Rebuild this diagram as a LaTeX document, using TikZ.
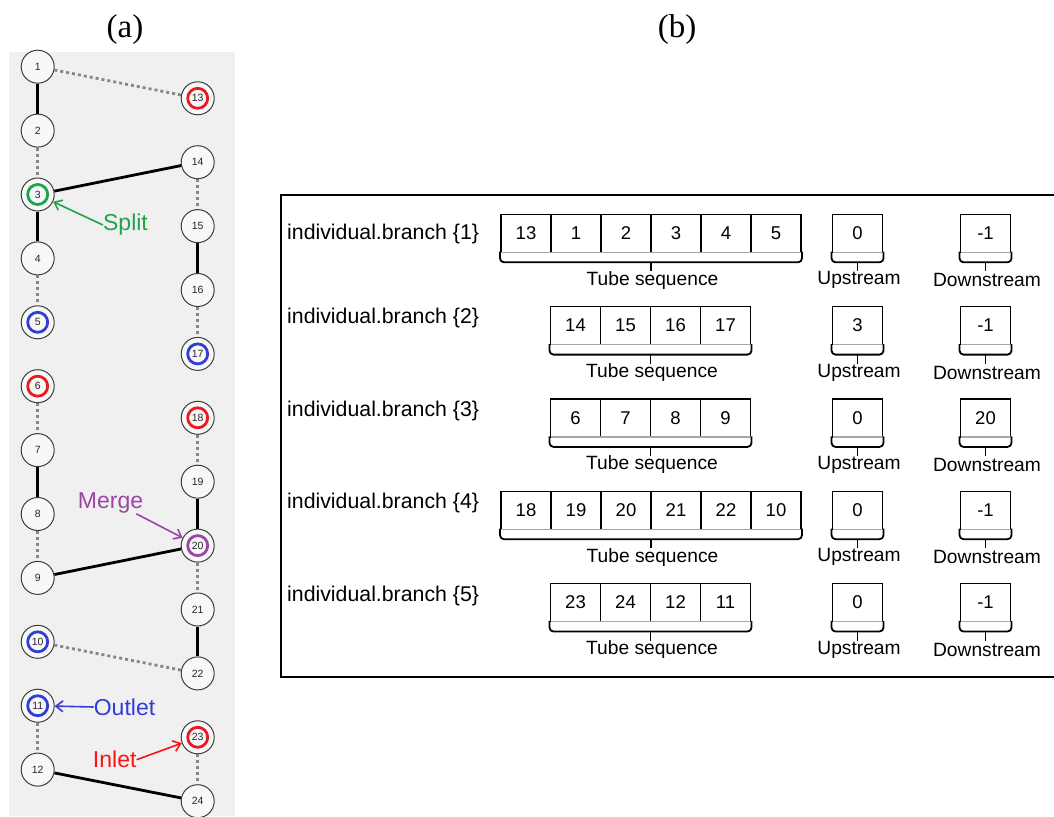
\documentclass[tikz,border=0pt]{standalone}
\usepackage{fontspec}
\setmainfont{Liberation Sans}
\newfontfamily\titlefont{Liberation Serif}
\usetikzlibrary{arrows.meta}
\definecolor{bggray}{RGB}{240,240,240}
\definecolor{nodefill}{RGB}{248,248,248}
\definecolor{nodeline}{RGB}{60,60,60}
\definecolor{dotgray}{RGB}{135,135,135}
\definecolor{ringred}{RGB}{235,25,35}
\definecolor{ringgreen}{RGB}{30,165,75}
\definecolor{ringblue}{RGB}{50,60,215}
\definecolor{ringpurple}{RGB}{155,70,165}
\definecolor{inletred}{RGB}{250,20,20}

\newcommand\bracketbox[5]{%
  \draw[gray!70, line width=1.2pt] ({#1},{#3}) -- ({#2},{#3});
  \draw[brk] ({#1-1},{#3-0.6}) -- ({#1-1},{#3+10}) -- ({#2+1},{#3+10}) -- ({#2+1},{#3-0.6});
  \draw[brk] ({(#1+#2)/2},{#3+10}) -- ({(#1+#2)/2},{#3+19});
  \node[sublbl] (#4) at ({(#1+#2)/2+1.5},{#3+28}) {#5};
}
\newcommand\branchrow[8]{% #1 row, #2 ytop, #3 x0, #4 list, #5 n, #6 up, #7 down, #8 label y
  \node[rowlbl] (lbl#1) at (287,#8) {individual.branch \{#1\}};
  \foreach \v [count=\i from 0] in {#4} {
    \node[cell] (r#1c\i) at ({#3+25+50*\i},{#2+19}) {\v};
  }
  \bracketbox{#3}{#3+50*#5}{#2+38}{seq#1}{Tube sequence}
  \node[cell] (up#1) at (857.5,{#2+19}) {#6};
  \bracketbox{832.5}{882.5}{#2+38}{upl#1}{Upstream}
  \node[cell] (dn#1) at (985.5,{#2+19}) {#7};
  \bracketbox{960.5}{1010.5}{#2+38}{dnl#1}{Downstream}
}

\begin{document}
\begin{tikzpicture}[x=1pt,y=-1pt,
  tube/.style={circle, draw=nodeline, line width=1pt, fill=nodefill, minimum size=33pt,
    inner sep=0pt, font=\fontsize{10.5}{10.5}\selectfont, text=black!85},
  ring/.style={path picture={\draw[line width=2.8pt,#1] (path picture bounding box.center) circle (10pt);}},
  solidedge/.style={line width=2.8pt, black},
  dotedge/.style={line width=2.8pt, dotgray, dash pattern=on 3pt off 3pt},
  ann/.style={inner sep=0pt, font=\fontsize{23}{25}\selectfont},
  annarrow/.style={line width=1.6pt, -{Straight Barb[length=7pt,width=11pt]}},
  cell/.style={draw=black, line width=1.4pt, minimum width=50pt, minimum height=38pt,
    inner sep=0pt, outer sep=0pt, font=\fontsize{18.5}{20}\selectfont},
  brk/.style={line width=1.8pt, rounded corners=4pt},
  sublbl/.style={inner sep=0pt, font=\fontsize{19.2}{21}\selectfont},
  rowlbl/.style={inner sep=0pt, anchor=west, font=\fontsize{21.3}{24}\selectfont},
  ttl/.style={inner sep=0pt, font=\titlefont\fontsize{33}{36}\selectfont},
]
\useasboundingbox (0,0) rectangle (1054,816);

% titles
\node[ttl] (ta) at (125,30) {(a)};
\node[ttl] (tb) at (677,30) {(b)};

% ---------------- panel (a)
\fill[bggray] (9,52) rectangle (234.5,816);

\node[tube] (n1) at (37.7,66.7) {1};
\node[tube] (n2) at (37.7,130.6) {2};
\node[tube,ring=ringgreen] (n3) at (37.7,194.5) {3};
\node[tube] (n4) at (37.7,258.4) {4};
\node[tube,ring=ringblue] (n5) at (37.7,322.3) {5};
\node[tube,ring=ringred] (n6) at (37.7,386.2) {6};
\node[tube] (n7) at (37.7,450.1) {7};
\node[tube] (n8) at (37.7,514.0) {8};
\node[tube] (n9) at (37.7,577.9) {9};
\node[tube,ring=ringblue] (n10) at (37.7,641.8) {10};
\node[tube,ring=ringblue] (n11) at (37.7,705.7) {11};
\node[tube] (n12) at (37.7,769.6) {12};

\node[tube,ring=ringred] (n13) at (197.7,98.3) {13};
\node[tube] (n14) at (197.7,162.2) {14};
\node[tube] (n15) at (197.7,226.1) {15};
\node[tube] (n16) at (197.7,290.0) {16};
\node[tube,ring=ringblue] (n17) at (197.7,353.9) {17};
\node[tube,ring=ringred] (n18) at (197.7,417.8) {18};
\node[tube] (n19) at (197.7,481.7) {19};
\node[tube,ring=ringpurple] (n20) at (197.7,545.6) {20};
\node[tube] (n21) at (197.7,609.5) {21};
\node[tube] (n22) at (197.7,673.4) {22};
\node[tube,ring=ringred] (n23) at (197.7,737.3) {23};
\node[tube] (n24) at (197.7,801.2) {24};

\draw[dotedge] (n1) -- (n13);
\draw[solidedge] (n1) -- (n2);
\draw[dotedge] (n2) -- (n3);
\draw[solidedge] (n3) -- (n14);
\draw[solidedge] (n3) -- (n4);
\draw[dotedge] (n4) -- (n5);
\draw[dotedge] (n14) -- (n15);
\draw[solidedge] (n15) -- (n16);
\draw[dotedge] (n16) -- (n17);
\draw[dotedge] (n6) -- (n7);
\draw[solidedge] (n7) -- (n8);
\draw[dotedge] (n8) -- (n9);
\draw[solidedge] (n9) -- (n20);
\draw[dotedge] (n18) -- (n19);
\draw[solidedge] (n19) -- (n20);
\draw[dotedge] (n20) -- (n21);
\draw[solidedge] (n21) -- (n22);
\draw[dotedge] (n10) -- (n22);
\draw[dotedge] (n11) -- (n12);
\draw[solidedge] (n12) -- (n24);
\draw[dotedge] (n23) -- (n24);

\node[ann, text=ringgreen] (split) at (125.5,225) {Split};
\draw[annarrow, ringgreen] (split.west) -- (n3);
\node[ann, text=ringpurple] (merge) at (110.5,503.3) {Merge};
\draw[annarrow, ringpurple] ([xshift=-7pt]merge.south east) -- (n20);
\node[ann, text=ringblue] (outlet) at (124.5,707) {Outlet};
\draw[annarrow, ringblue] (outlet.west) -- (n11);
\node[ann, text=inletred] (inlet) at (114.7,759.7) {Inlet};
\draw[annarrow, inletred] (inlet.east) -- (n23);

% ---------------- panel (b)
\draw[line width=2.6pt] (1060,195) -- (281,195) -- (281,677) -- (1060,677);

\branchrow{1}{214.3}{501}{13,1,2,3,4,5}{6}{0}{-1}{234}
\branchrow{2}{306.6}{550.5}{14,15,16,17}{4}{3}{-1}{318}
\branchrow{3}{398.9}{550.5}{6,7,8,9}{4}{0}{20}{411}
\branchrow{4}{491.2}{501}{18,19,20,21,22,10}{6}{0}{-1}{503}
\branchrow{5}{583.5}{550.5}{23,24,12,11}{4}{0}{-1}{596}
\end{tikzpicture}
\end{document}
